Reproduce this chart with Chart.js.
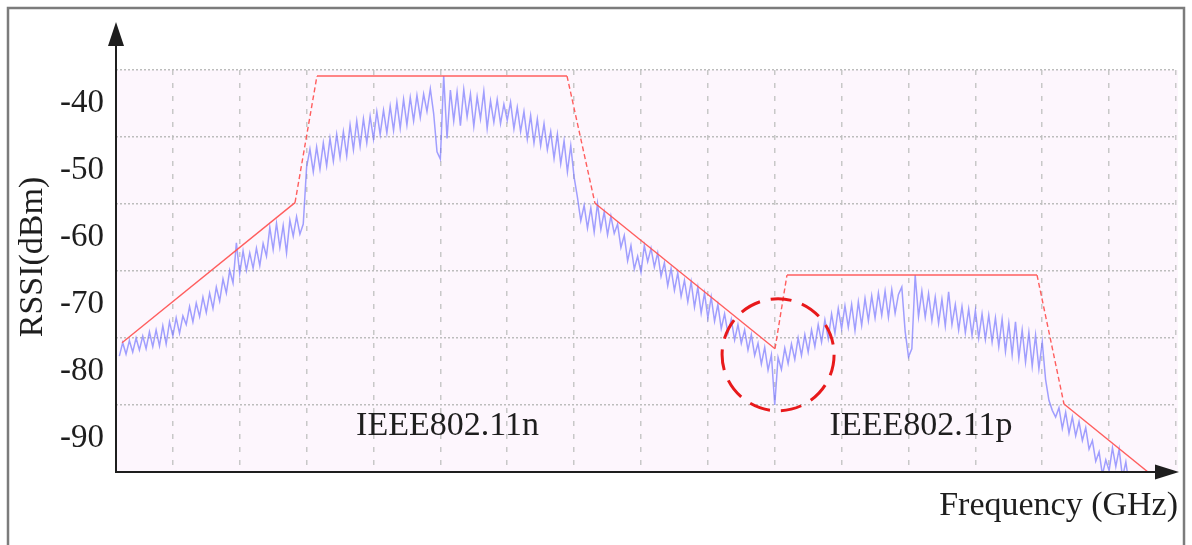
<!DOCTYPE html>
<html><head><meta charset="utf-8">
<script src="https://cdn.jsdelivr.net/npm/chart.js@4.4.1/dist/chart.umd.min.js"></script>
<style>html,body{margin:0;padding:0;background:#fff;overflow:hidden}canvas{display:block}</style>
</head><body>
<canvas id="c" width="1192" height="545"></canvas>
<script>
// ---- data ----
const yTickValues = [-90, -80, -70, -60, -50, -40];
const xGridValues = [1, 2, 3, 4, 5, 6, 7, 8, 9, 10, 11, 12, 13, 14, 15, 16];

// spectrum mask (red)
const maskFreq = [0.24, 2.827, 3.155, 6.894, 7.312, 10.004, 10.183, 13.922, 14.325, 15.581];
const maskRssi = [-75.7, -54.8, -35.9, -35.9, -54.9, -76.6, -65.6, -65.6, -84.85, -95.0];

// measured spectrum (blue), frequency bins start / width
const spectrumStart = 0.2;
const spectrumStep = 0.05;
const spectrumRssi = [
 -77.7,-75.7,-77.4,-75.4,-77.1,-75.0,-76.8,-74.7,-76.6,-74.1,-76.3,-73.8,-76.2,-73.2,-75.9,-72.6,-74.7,-72.0,-74.3,-71.7,
 -73.0,-70.3,-72.6,-69.8,-71.8,-68.9,-71.2,-68.3,-70.6,-67.4,-69.5,-66.2,-68.3,-64.9,-66.8,-60.8,-65.4,-62.0,-64.9,-62.3,
 -64.6,-61.6,-64.2,-60.9,-62.8,-58.5,-61.8,-57.9,-61.5,-58.2,-62.3,-57.4,-59.8,-56.9,-59.5,-58.0,-49.5,-46.8,-50.2,-46.5,
 -49.8,-45.9,-49.3,-45.2,-48.6,-44.6,-48.1,-44.2,-47.8,-43.2,-46.9,-42.6,-46.4,-42.3,-45.9,-41.9,-45.3,-41.2,-44.6,-41.0,
 -44.4,-40.4,-44.0,-39.8,-43.7,-39.4,-43.2,-39.1,-42.6,-38.8,-42.1,-38.6,-41.2,-37.8,-41.5,-47.2,-48.3,-35.9,-45.2,-38.0,
 -42.6,-38.3,-43.3,-37.9,-42.0,-38.6,-43.4,-39.0,-42.3,-38.2,-43.7,-39.6,-42.8,-39.4,-43.0,-40.1,-42.5,-39.8,-43.8,-40.6,
 -44.2,-41.2,-45.3,-41.8,-45.9,-42.3,-46.3,-43.0,-46.9,-44.2,-48.2,-44.6,-49.0,-45.6,-50.2,-46.3,-51.0,-54.0,-57.5,-55.2,
 -58.6,-55.6,-59.2,-54.9,-58.8,-56.2,-59.6,-56.8,-59.4,-58.0,-61.5,-59.7,-63.5,-61.2,-64.7,-62.8,-65.2,-61.2,-63.6,-61.6,
 -64.4,-62.3,-65.8,-63.8,-67.2,-64.6,-67.9,-65.3,-68.8,-66.4,-69.6,-66.6,-70.4,-67.4,-71.3,-68.3,-72.0,-68.9,-72.5,-70.0,
 -73.6,-71.4,-74.3,-72.2,-75.3,-73.0,-75.8,-73.8,-76.8,-74.5,-77.6,-75.8,-78.9,-76.4,-79.8,-77.5,-85.0,-77.9,-79.7,-76.5,
 -78.8,-75.9,-78.2,-75.0,-77.6,-74.5,-77.1,-73.8,-76.3,-73.0,-75.6,-72.3,-75.1,-71.4,-74.3,-70.6,-73.6,-70.2,-73.4,-70.0,
 -73.9,-69.6,-73.1,-69.1,-72.4,-68.7,-72.0,-68.3,-71.6,-68.0,-71.9,-67.8,-71.3,-68.5,-67.4,-74.0,-77.8,-76.6,-65.6,-71.8,
 -68.0,-71.9,-68.4,-72.4,-68.9,-72.8,-69.2,-73.2,-68.1,-73.0,-70.0,-73.8,-70.3,-74.2,-70.7,-74.6,-70.9,-75.0,-71.4,-75.2,
 -71.6,-75.6,-72.0,-76.3,-72.2,-77.0,-72.8,-77.5,-72.6,-78.0,-73.8,-78.6,-74.2,-79.2,-74.6,-79.6,-75.6,-81.2,-84.3,-85.8,
 -86.8,-85.4,-88.5,-86.1,-89.2,-86.8,-89.6,-87.5,-90.3,-88.4,-91.6,-90.3,-93.4,-92.0,-95.4,-93.2,-94.8,-91.4,-94.2,-91.6,
 -95.8,-93.5,-97.0
];

const labelN = 'IEEE802.11n';
const labelP = 'IEEE802.11p';
const xTitle = 'Frequency (GHz)';
const yTitle = 'RSSI(dBm)';

// ---- build ----
const spectrumPoints = spectrumRssi.map((v, i) => ({x: spectrumStart + i * spectrumStep, y: v}));
const maskPoints = maskFreq.map((f, i) => ({x: f, y: maskRssi[i]}));

const SERIF = '"Liberation Serif", "DejaVu Serif", serif';
const INK = '#1e1e1e';

const decor = {
  id: 'decor',
  beforeDraw(chart) {
    const {ctx, chartArea: a} = chart;
    ctx.save();
    ctx.fillStyle = '#ffffff';
    ctx.fillRect(0, 0, chart.width, chart.height);
    ctx.fillStyle = '#fdf6fd';
    ctx.fillRect(a.left, a.top, a.right - a.left + 2, a.bottom - a.top);
    ctx.restore();
  },
  afterDatasetsDraw(chart) {
    const {ctx, scales: {x, y}} = chart;
    ctx.save();
    ctx.strokeStyle = '#e8191b';
    ctx.lineWidth = 3;
    ctx.setLineDash([21, 11]);
    ctx.beginPath();
    ctx.arc(x.getPixelForValue(10.05), y.getPixelForValue(-77.5), 56, 0, Math.PI * 2);
    ctx.stroke();
    ctx.setLineDash([]);
    ctx.fillStyle = INK;
    ctx.font = '34px ' + SERIF;
    ctx.textAlign = 'left';
    ctx.textBaseline = 'alphabetic';
    ctx.fillText(labelN, x.getPixelForValue(3.74), y.getPixelForValue(-89.5));
    ctx.fillText(labelP, x.getPixelForValue(10.82), y.getPixelForValue(-89.5));
    ctx.restore();
  },
  afterDraw(chart) {
    const {ctx, chartArea: a} = chart;
    ctx.save();
    ctx.strokeStyle = INK;
    ctx.fillStyle = INK;
    ctx.lineWidth = 2;
    ctx.beginPath();
    ctx.moveTo(a.left, a.bottom + 1);
    ctx.lineTo(a.left, 44);
    ctx.moveTo(a.left - 1, a.bottom);
    ctx.lineTo(a.right - 20, a.bottom);
    ctx.stroke();
    ctx.beginPath();
    ctx.moveTo(a.left, 22);
    ctx.lineTo(a.left - 8, 46);
    ctx.lineTo(a.left + 8, 46);
    ctx.closePath();
    ctx.fill();
    ctx.beginPath();
    ctx.moveTo(a.right + 3, a.bottom);
    ctx.lineTo(a.right - 21, a.bottom - 7.5);
    ctx.lineTo(a.right - 21, a.bottom + 7.5);
    ctx.closePath();
    ctx.fill();
    ctx.font = '34px ' + SERIF;
    ctx.textAlign = 'right';
    ctx.textBaseline = 'alphabetic';
    ctx.fillText(xTitle, a.right + 2, 515);
    ctx.translate(42, 257);
    ctx.rotate(-Math.PI / 2);
    ctx.textAlign = 'center';
    ctx.fillText(yTitle, 0, 0);
    ctx.restore();
    ctx.save();
    ctx.strokeStyle = '#7c7c7c';
    ctx.lineWidth = 2.5;
    ctx.strokeRect(8, 8, 1176, 600);
    ctx.restore();
  }
};

new Chart(document.getElementById('c'), {
  type: 'line',
  data: {
    datasets: [
      {
        label: 'Measured RSSI',
        data: spectrumPoints,
        borderColor: 'rgba(110,110,255,0.65)',
        borderWidth: 1.5,
        pointRadius: 0,
        tension: 0,
        clip: 0,
        order: 2
      },
      {
        label: 'Spectrum mask',
        data: maskPoints,
        borderColor: 'rgba(255,85,85,0.95)',
        borderWidth: 1.4,
        pointRadius: 0,
        tension: 0,
        clip: 0,
        order: 1,
        segment: {
          borderDash: c => Math.abs(c.p1.y - c.p0.y) > 2 * Math.abs(c.p1.x - c.p0.x) ? [5, 3] : undefined
        }
      }
    ]
  },
  options: {
    responsive: false,
    animation: false,
    devicePixelRatio: 1,
    layout: {padding: {left: 0, top: 70, right: 16, bottom: 73}},
    plugins: {legend: {display: false}, tooltip: {enabled: false}},
    scales: {
      x: {
        type: 'linear',
        min: 0.15,
        max: 16,
        afterBuildTicks: s => { s.ticks = xGridValues.map(v => ({value: v})); },
        afterFit: s => { s.height = 0; },
        ticks: {display: false},
        grid: {color: '#c8c8c8', lineWidth: 1.5, drawTicks: false},
        border: {display: false, dash: [5, 8]}
      },
      y: {
        type: 'linear',
        min: -95,
        max: -35,
        afterBuildTicks: s => { s.ticks = yTickValues.map(v => ({value: v})); },
        afterFit: s => { s.width = 116; },
        ticks: {
          color: INK,
          padding: 12,
          font: {family: SERIF, size: 33},
          autoSkip: false
        },
        grid: {color: '#bdbdbd', lineWidth: 1.5, drawTicks: false, offset: true},
        border: {display: false, dash: [2, 2]}
      }
    }
  },
  plugins: [decor]
});
</script>
</body></html>
